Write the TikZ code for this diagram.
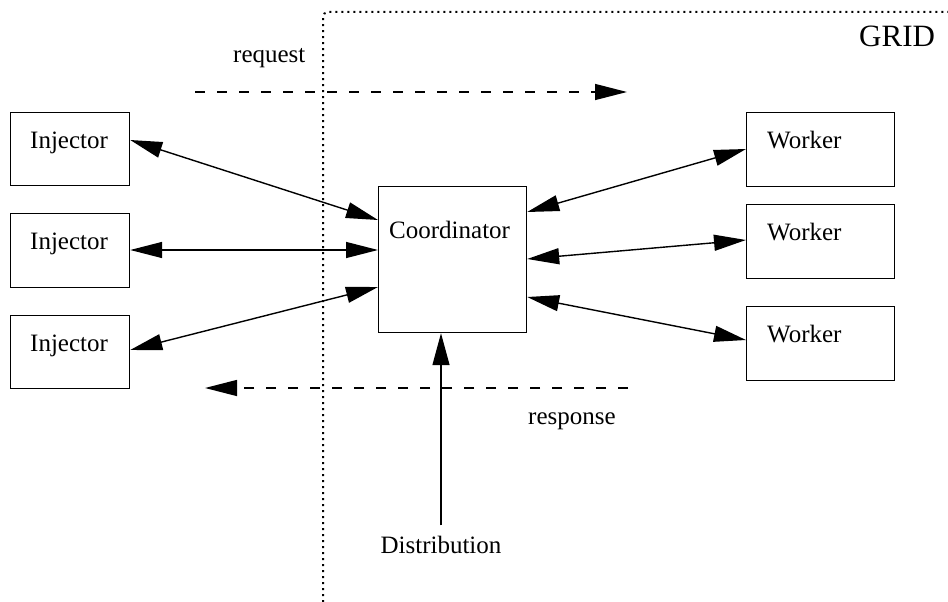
\documentclass[tikz,border=0pt]{standalone}
\usepackage{fontspec}
\setmainfont{Liberation Serif}
\usetikzlibrary{arrows.meta,calc}

\tikzset{
  unit/.style={draw, line width=1.2pt, inner sep=0pt, anchor=north west},
  boxtext/.style={anchor=base west, inner sep=0pt, font=\fontsize{25}{30}\selectfont},
  tag/.style={anchor=base west, inner sep=0pt, font=\fontsize{25}{30}\selectfont},
  arr/.tip={Triangle[length=32pt, width=16pt]},
  uparr/.tip={Triangle[length=32pt, width=17pt]},
  link/.style={line width=1.4pt, arr-arr},
  flow/.style={line width=1.4pt, dash pattern=on 10pt off 12pt, -arr},
  border/.style={line width=2pt, dash pattern=on 2pt off 4pt, rounded corners=5pt}
}

\begin{document}
\begin{tikzpicture}[x=1pt, y=-1pt]
  \useasboundingbox (0,0) rectangle (948,602);

  % grid boundary
  \draw[border] (323,602) -- (323,12) -- (948,12);
  \node[tag, font=\fontsize{31}{36}\selectfont] (grid) at (859,47) {GRID};

  % injectors
  \node[unit, minimum width=119pt, minimum height=73pt] (i1) at (10,112) {};
  \node[unit, minimum width=119pt, minimum height=74pt] (i2) at (10,213) {};
  \node[unit, minimum width=119pt, minimum height=73pt] (i3) at (10,315) {};
  \node[boxtext] at ($(i1.north west)+(20,36)$) {Injector};
  \node[boxtext] at ($(i2.north west)+(20,36)$) {Injector};
  \node[boxtext] at ($(i3.north west)+(20,36)$) {Injector};

  % coordinator
  \node[unit, minimum width=148pt, minimum height=146pt] (co) at (378,186) {};
  \node[boxtext] at ($(co.north west)+(11,52)$) {Coordinator};

  % workers
  \node[unit, minimum width=148pt, minimum height=74pt] (w1) at (746,112) {};
  \node[unit, minimum width=148pt, minimum height=74pt] (w2) at (746,204) {};
  \node[unit, minimum width=148pt, minimum height=74pt] (w3) at (746,306) {};
  \node[boxtext] at ($(w1.north west)+(21,36)$) {Worker};
  \node[boxtext] at ($(w2.north west)+(21,36)$) {Worker};
  \node[boxtext] at ($(w3.north west)+(21,36)$) {Worker};

  % distribution
  \node[anchor=base, inner xsep=0pt, inner ysep=10pt,
        font=\fontsize{25}{30}\selectfont] (dist) at (441,553) {Distribution};

  % links between injectors, coordinator and workers
  \draw[link] ($(i1.north east)+(0,28)$) -- ($(co.north west)+(0,34)$);
  \draw[link] ($(i2.north east)+(0,37)$) -- ($(co.north west)+(0,64)$);
  \draw[link] ($(i3.north east)+(0,35)$) -- ($(co.north west)+(0,101)$);
  \draw[link] ($(co.north east)+(0,26)$) -- ($(w1.north west)+(0,37)$);
  \draw[link] ($(co.north east)+(0,73)$) -- ($(w2.north west)+(0,36)$);
  \draw[link] ($(co.north east)+(0,111)$) -- ($(w3.north west)+(0,34)$);
  \draw[line width=1.4pt, -uparr] (dist.north) -- (dist.north |- co.south);

  % request / response flow
  \coordinate (rq0) at (195,92);
  \coordinate (rq1) at (627,92);
  \coordinate (rs0) at (628,388);
  \coordinate (rs1) at (205,388);
  \draw[flow] (rq0) -- (rq1);
  \draw[flow] (rs0) -- (rs1);
  \node[tag] (req) at (233,63) {request};
  \node[tag] (resp) at (528,424) {response};
\end{tikzpicture}
\end{document}
